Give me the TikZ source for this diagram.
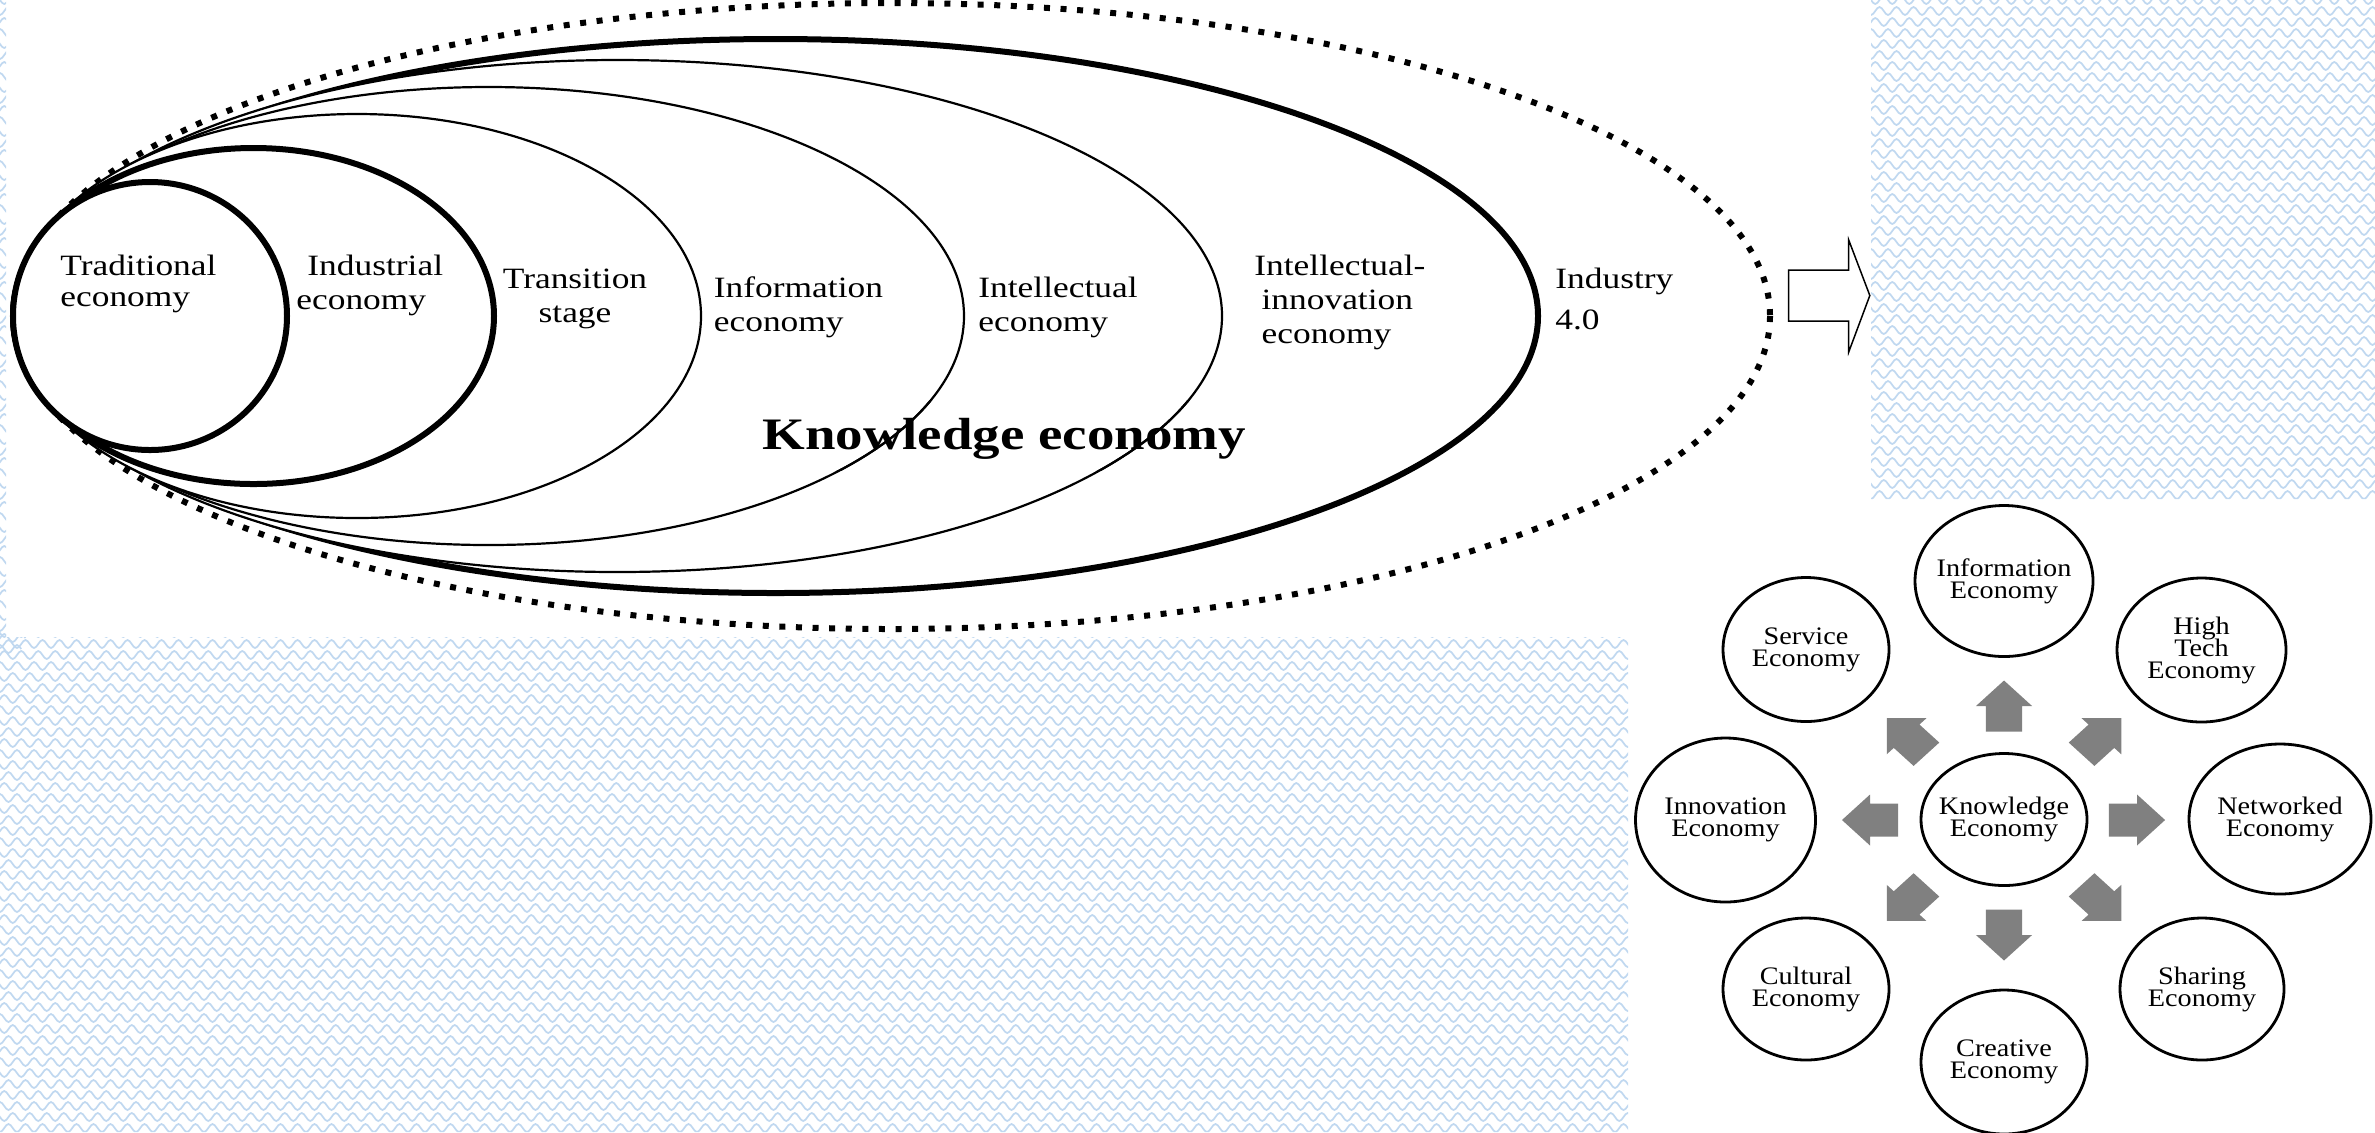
\documentclass[tikz,border=0pt]{standalone}
\usepackage{fontspec}
\setmainfont{Liberation Serif}
\usepackage{graphicx}
\usetikzlibrary{shapes.geometric}
\definecolor{patblue}{RGB}{192,216,240}
\definecolor{agray}{RGB}{128,128,128}
\newcommand\elab[2][l]{\scalebox{1.2}[1]{\fontsize{14.75pt}{17pt}\selectfont\begin{tabular}[t]{@{}#1@{}}#2\end{tabular}}}
\newcommand\ctxt[1]{\makebox[0pt]{\scalebox{1.12}[1]{\fontsize{12.6pt}{11pt}\selectfont\vbox{\baselineskip=11pt\lineskiplimit=-100pt\relax\halign{\hfil##\hfil\cr#1\crcr}}}}}
\newcommand\gblk[3]{\begin{scope}[shift={(#1,#2)},xscale=1.1,rotate=#3]\fill[agray] (-25.5,-16.5) -- (0,-16.5) -- (0,-25.5) -- (25.5,0) -- (0,25.5) -- (0,16.5) -- (-25.5,16.5) -- cycle;\end{scope}}
\begin{document}
\begin{tikzpicture}[x=0.5pt,y=-0.5pt,
  thickl/.style={line width=3pt},
  thinl/.style={line width=1.1pt},
  dotl/.style={line width=3pt, dash pattern=on 3pt off 5.3pt},
  pat/.style={draw=patblue, line width=0.85pt},
  lbl/.style={inner sep=0pt},
  rcirc/.style={ellipse, draw, line width=1.4pt, fill=white, inner sep=0pt}]
\useasboundingbox (0,0) rectangle (2375,1132);
\fill[white] (0,0) rectangle (2375,1132);
% background pattern
\begin{scope}
\clip (0,0) rectangle (6,637) (1871,0) rectangle (2375,499) (0,637) rectangle (1628,1132);
\foreach \r in {0,...,46} {
  \pgfmathsetmacro\yy{\r*11}
  \pgfmathsetmacro\xs{1837-mod(\r,4)*4.25}
  \draw[pat] (\xs,\yy) \foreach \i in {1,...,33} { sin ++(4.25,4) cos ++(4.25,-4) sin ++(4.25,-4) cos ++(4.25,4) };
}
\foreach \r in {0,...,59} {
  \pgfmathsetmacro\yy{\r*11}
  \pgfmathsetmacro\xs{-17-mod(\r,4)*4.25}
  \draw[pat] (\xs,\yy) \foreach \i in {1,...,3} { sin ++(4.25,4) cos ++(4.25,-4) sin ++(4.25,-4) cos ++(4.25,4) };
}
\foreach \r in {0,...,46} {
  \pgfmathsetmacro\yy{633+\r*11}
  \pgfmathsetmacro\xs{-17-mod(\r,4)*4.25}
  \draw[pat] (\xs,\yy) \foreach \i in {1,...,99} { sin ++(4.25,4) cos ++(4.25,-4) sin ++(4.25,-4) cos ++(4.25,4) };
}
\end{scope}
% nested economies
\draw[dotl, fill=white] (891.5,316) ellipse [x radius=878.5, y radius=313];
\draw[thickl, fill=white] (775.5,316) ellipse [x radius=762.5, y radius=277];
\draw[thinl, fill=white] (617.5,316) ellipse [x radius=604.5, y radius=256];
\draw[thinl, fill=white] (488.5,316) ellipse [x radius=475.5, y radius=229];
\draw[thinl, fill=white] (357,316) ellipse [x radius=344, y radius=202];
\draw[thickl, fill=white] (253.5,316) ellipse [x radius=240.5, y radius=168];
\draw[thickl, fill=white] (150,316) ellipse [x radius=137, y radius=134];
% labels
\node[lbl, anchor=base west] (trad) at (60,275.6) {\elab{Traditional\\[-1.5pt]economy}};
\node[lbl, anchor=base west] (indu) at (296,275.6) {\elab{\hspace*{4.6pt}Industrial\\economy}};
\node[lbl, anchor=base] (trans) at (575,288) {\elab[c]{Transition\\stage}};
\node[lbl, anchor=base west] (infoe) at (713.5,297) {\elab{Information\\economy}};
\node[lbl, anchor=base west] (intel) at (978,297.6) {\elab{Intellectual\\economy}};
\node[lbl, anchor=base west] (intinn) at (1254,275.6) {\elab{Intellectual-\\\hspace*{3pt}innovation\\\hspace*{3pt}economy}};
\node[lbl, anchor=base west] (ind4) at (1555,288) {\elab{Industry\\[3.5pt]4.0}};
\node[lbl, anchor=base west] (ke) at (762,449) {\scalebox{1.22}[1]{\fontsize{22.5pt}{27pt}\selectfont\bfseries Knowledge economy}};
\begin{scope}
\clip (750,400) rectangle (1260,470);
\draw[thinl] (617.5,316) ellipse [x radius=604.5, y radius=256];
\draw[thinl] (488.5,316) ellipse [x radius=475.5, y radius=229];
\end{scope}
% outline arrow
\draw[line width=0.75pt, fill=white] (1788.6,270) -- (1848.7,270) -- (1848.7,240) -- (1869.8,295.5) -- (1848.7,352) -- (1848.7,321) -- (1788.6,321) -- cycle;
% right diagram
\node[rcirc, minimum width=89pt, minimum height=75.5pt] (cinfo) at (2004,581) {\ctxt{Information\cr Economy}};
\node[rcirc, minimum width=84.5pt, minimum height=72pt] (chigh) at (2201.5,650) {\ctxt{High\cr Tech\cr Economy}};
\node[rcirc, minimum width=83pt, minimum height=72pt] (cserv) at (1806,649.5) {\ctxt{Service\cr Economy}};
\node[rcirc, minimum width=90pt, minimum height=82pt] (cinnov) at (1725.5,820) {\ctxt{Innovation\cr Economy}};
\node[rcirc, minimum width=83pt, minimum height=66pt] (cknow) at (2004,819.5) {\ctxt{Knowledge\cr Economy}};
\node[rcirc, minimum width=91pt, minimum height=75pt] (cnet) at (2280,819) {\ctxt{Networked\cr Economy}};
\node[rcirc, minimum width=83pt, minimum height=71pt] (ccult) at (1806,989) {\ctxt{Cultural\cr Economy}};
\node[rcirc, minimum width=82pt, minimum height=71pt] (cshare) at (2202,989) {\ctxt{Sharing\cr Economy}};
\node[rcirc, minimum width=83pt, minimum height=72pt] (ccreat) at (2004,1062) {\ctxt{Creative\cr Economy}};
\gblk{2004}{706}{90}
\gblk{2004}{935}{270}
\gblk{1870}{820}{180}
\gblk{2137}{820}{0}
\gblk{2101.4}{736.2}{45}
\gblk{1906.6}{736.2}{135}
\gblk{1906.6}{902.9}{225}
\gblk{2101.4}{902.9}{315}
\end{tikzpicture}
\end{document}
